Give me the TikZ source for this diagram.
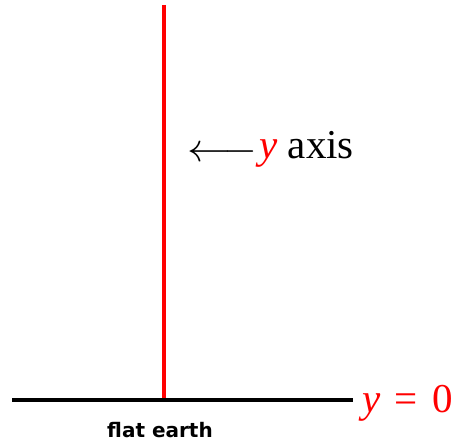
\documentclass[tikz,border=0pt]{standalone}
\usepackage{fontspec}
\usepackage{graphicx}
\setmainfont{Liberation Serif}
\newfontfamily\labfont{DejaVu Sans}
\begin{document}
\begin{tikzpicture}[x=1pt,y=-1pt,
  axisline/.style={line width=3.5pt},
  bigtext/.style={font=\fontsize{41}{44}\selectfont, inner sep=0pt},
  smalltext/.style={font=\labfont\bfseries\fontsize{20}{22}\selectfont, inner sep=0pt}]
\useasboundingbox (0,0) rectangle (454,444);
\coordinate (ytop) at (164,5);
\coordinate (ybot) at (164,398);
\coordinate (xl) at (12,400);
\coordinate (xr) at (353,400);
\draw[axisline, red] (ytop) -- (ybot);
\draw[axisline, black] (xl) -- (xr);
\node[bigtext, anchor=base west] (ylab) at (187,158) {\raisebox{-3pt}{\scalebox{1.75}[1.6]{$\longleftarrow$}}\hspace{2pt}{\color{red}\textit{y}} axis};
\node[bigtext, anchor=base west, text=red] (y0) at (362,412) {\textit{y}\hspace{0.35em}=\hspace{0.35em}0};
\node[smalltext, anchor=base] (earth) at (160,437) {flat earth};
\end{tikzpicture}
\end{document}
